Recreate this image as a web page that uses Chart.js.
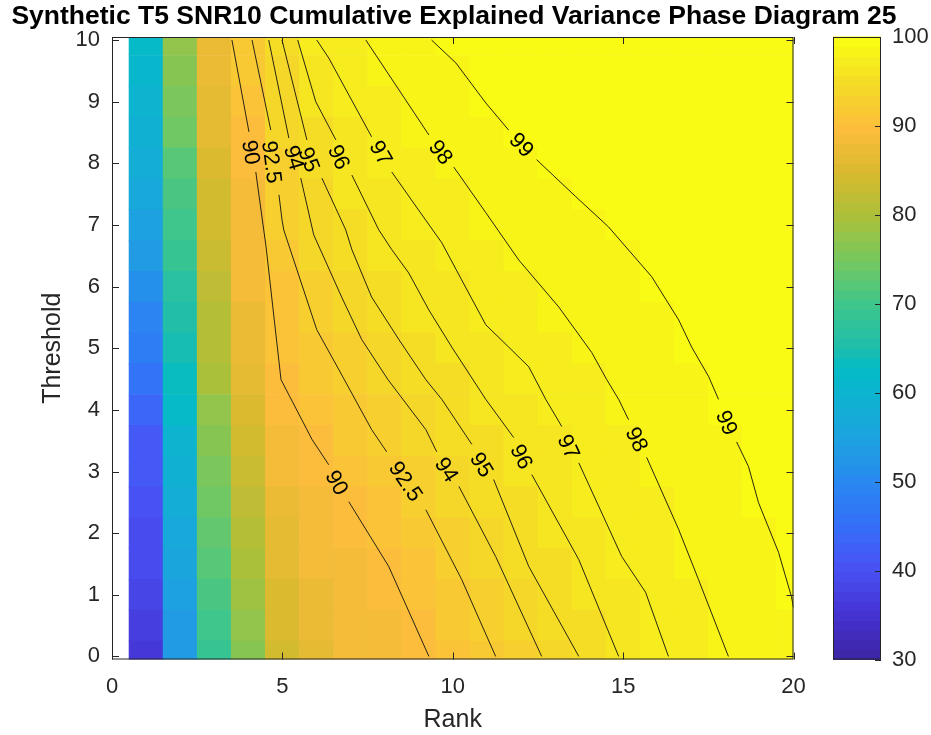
<!DOCTYPE html>
<html>
<head>
<meta charset="utf-8">
<script src="https://cdn.jsdelivr.net/npm/chart.js@4/dist/chart.umd.min.js"></script>
<style>
html,body{margin:0;padding:0;background:#fff;}
canvas{display:block;}
</style>
</head>
<body>
<canvas id="chart" width="931" height="735"></canvas>
<script>
// ---------------- DATA ----------------
const chartTitle = 'Synthetic T5 SNR10 Cumulative Explained Variance Phase Diagram 25';
const xAxisLabel = 'Rank';
const yAxisLabel = 'Threshold';

const ranks = [1,2,3,4,5,6,7,8,9,10,11,12,13,14,15,16,17,18,19,20];
const thresholds = [0,0.5,1,1.5,2,2.5,3,3.5,4,4.5,5,5.5,6,6.5,7,7.5,8,8.5,9,9.5,10];

const xTicks = [0,5,10,15,20];
const yTicks = [0,1,2,3,4,5,6,7,8,9,10];
const colorbarTicks = [30,40,50,60,70,80,90,100];
const colorLimits = [30,100];

// cumulative explained variance (%) per rank, one array per threshold row
const ev_t0_0  = [36.5,53.0,68.7,77.0,84.2,86.6,88.0,89.0,89.6,90.9,92.2,93.3,94.4,95.3,96.1,96.8,97.4,98.0,98.4,98.8];
const ev_t0_5  = [37.0,53.5,69.7,78.0,84.8,87.0,88.3,88.9,90.1,91.4,92.7,93.8,94.8,95.6,96.3,97.0,97.6,98.1,98.5,98.9];
const ev_t1_0  = [38.0,54.5,70.8,79.0,85.4,87.6,88.6,89.3,90.6,91.9,93.1,94.3,95.2,95.9,96.6,97.2,97.8,98.2,98.6,99.0];
const ev_t1_5  = [39.0,55.5,71.8,80.0,86.2,88.0,89.0,89.9,91.2,92.5,93.6,94.8,95.5,96.2,97.0,97.5,98.0,98.4,98.8,99.1];
const ev_t2_0  = [39.5,56.5,72.8,80.8,86.8,88.3,89.4,90.6,91.8,93.0,94.1,95.1,95.8,96.5,97.2,97.7,98.1,98.5,98.9,99.1];
const ev_t2_5  = [40.0,58.0,74.0,82.0,87.6,89.0,90.1,91.2,92.4,93.5,94.6,95.4,96.2,96.8,97.4,97.8,98.2,98.6,99.0,99.2];
const ev_t3_0  = [41.0,59.0,75.3,83.2,88.4,89.4,90.7,92.0,93.1,94.1,95.0,95.8,96.5,97.1,97.6,98.1,98.4,98.8,99.1,99.2];
const ev_t3_5  = [42.0,60.5,76.5,84.3,88.9,90.1,91.4,92.7,93.6,94.6,95.4,96.1,96.7,97.2,97.8,98.2,98.6,98.9,99.1,99.2];
const ev_t4_0  = [44.0,62.0,78.0,85.5,89.4,90.8,92.1,93.2,94.2,95.1,95.9,96.5,97.0,97.5,98.0,98.3,98.7,99.0,99.2,99.3];
const ev_t4_5  = [46.0,63.0,79.5,86.5,90.0,91.4,92.7,93.9,94.8,95.6,96.2,96.8,97.3,97.8,98.2,98.5,98.8,99.0,99.2,99.3];
const ev_t5_0  = [47.5,64.0,80.5,87.3,90.2,92.0,93.4,94.5,95.3,96.0,96.6,97.1,97.6,98.0,98.3,98.7,99.0,99.2,99.3,99.4];
const ev_t5_5  = [49.5,65.5,81.3,87.7,90.6,92.6,93.9,95.0,95.7,96.4,97.1,97.5,97.9,98.2,98.5,98.8,99.1,99.2,99.3,99.4];
const ev_t6_0  = [51.5,67.0,82.2,88.0,90.9,93.1,94.5,95.4,96.1,96.7,97.3,97.7,98.1,98.4,98.7,99.0,99.2,99.3,99.4,99.5];
const ev_t6_5  = [53.5,68.5,83.0,88.1,91.5,93.7,94.9,95.7,96.4,97.1,97.6,98.0,98.3,98.6,98.9,99.2,99.3,99.4,99.5,99.5];
const ev_t7_0  = [55.0,70.0,83.8,88.1,92.5,94.2,95.2,96.1,96.8,97.4,97.9,98.2,98.5,98.8,99.1,99.3,99.4,99.5,99.5,99.6];
const ev_t7_5  = [56.5,71.0,84.6,88.8,92.7,94.5,95.7,96.5,97.2,97.7,98.1,98.5,98.8,99.1,99.3,99.4,99.5,99.5,99.6,99.6];
const ev_t8_0  = [58.0,72.5,85.3,89.4,93.2,95.2,96.2,96.9,97.5,98.0,98.4,98.8,99.2,99.3,99.4,99.5,99.6,99.6,99.7,99.7];
const ev_t8_5  = [59.0,74.0,86.0,89.9,93.5,95.4,96.5,97.3,97.9,98.3,98.7,99.1,99.3,99.4,99.5,99.6,99.6,99.7,99.7,99.8];
const ev_t9_0  = [60.0,75.5,86.6,90.6,94.1,96.0,96.9,97.6,98.2,98.6,99.0,99.3,99.4,99.5,99.6,99.6,99.7,99.7,99.8,99.8];
const ev_t9_5  = [61.0,77.0,87.1,91.3,94.5,96.3,97.3,98.0,98.4,98.9,99.2,99.4,99.5,99.6,99.6,99.7,99.7,99.8,99.8,99.9];
const ev_t10_0 = [62.0,78.0,87.7,92.0,95.0,97.0,97.7,98.3,98.8,99.1,99.3,99.5,99.6,99.6,99.7,99.7,99.8,99.8,99.9,99.9];

const varianceRows = [ev_t0_0,ev_t0_5,ev_t1_0,ev_t1_5,ev_t2_0,ev_t2_5,ev_t3_0,ev_t3_5,ev_t4_0,ev_t4_5,
  ev_t5_0,ev_t5_5,ev_t6_0,ev_t6_5,ev_t7_0,ev_t7_5,ev_t8_0,ev_t8_5,ev_t9_0,ev_t9_5,ev_t10_0];

// contour lines [rank, threshold]; null = gap where the inline label sits
const contourLevels = [90, 92.5, 94, 95, 96, 97, 98, 99];
const c90  = [[3.52,10],[4.02,8.51],null,[4.22,7.86],[4.52,6.65],[4.96,4.49],[5.72,3.68],[5.87,3.52],[6.36,3.11],null,[6.95,2.51],[8.12,1.46],[9.30,0]];
const c925 = [[4.11,10],[4.66,8.54],null,[4.90,7.49],[4.99,7.08],[5.04,6.92],[6.01,5.30],[6.66,4.65],[7.62,3.68],[8.06,3.32],null,[9.21,2.38],[10.26,1.25],[11.26,0]];
const c94  = [[4.60,10],[5.19,8.41],null,[5.54,7.76],[5.92,6.84],[6.74,5.83],[7.33,5.14],[8.10,4.49],[9.21,3.68],[9.53,3.32],null,[10.18,2.76],[11.26,1.62],[12.61,0]];
const c95  = [[4.99,10],[5.72,8.38],null,[6.16,7.76],[6.86,6.92],[7.04,6.60],[7.62,5.83],[8.42,5.14],[9.21,4.49],[9.68,4.17],[10.56,3.44],null,[11.20,2.87],[12.23,1.46],[13.70,0]];
const c96  = [[5.45,10],[5.98,9.0],[6.57,8.38],null,[7.04,7.81],[7.83,6.92],[8.21,6.60],[8.71,6.22],[9.30,5.62],[9.97,5.02],[10.97,4.17],[11.79,3.55],null,[12.32,2.95],[13.70,1.57],[14.87,0]];
const c97  = [[6.01,10],[6.36,9.71],[7.62,8.43],null,[8.21,7.86],[9.00,7.24],[9.68,6.71],[10.26,6.11],[10.97,5.38],[11.64,5.02],[12.23,4.70],[12.73,4.17],[13.20,3.73],null,[13.70,3.14],[14.96,1.62],[15.66,1.04],[16.33,0]];
const c98  = [[7.45,10],[9.30,8.46],null,[10.03,7.94],[10.97,7.20],[11.94,6.43],[13.11,5.67],[14.08,4.93],[14.52,4.49],[14.87,4.17],[15.16,3.84],null,[15.69,3.23],[16.63,2.06],[17.21,1.25],[18.09,0]];
const c99  = [[9.38,10],[10.09,9.63],[10.97,8.98],[11.64,8.54],null,[12.46,8.06],[13.61,7.46],[14.57,6.97],[15.84,6.16],[16.63,5.46],[17.01,5.02],[17.51,4.54],[17.80,4.17],null,[18.33,3.48],[18.68,3.08],[18.97,2.50],[19.56,1.69],[19.94,0.97],[20.0,0.79]];
const contourPaths = [c90, c925, c94, c95, c96, c97, c98, c99];

// label centre positions [rank, threshold]
const lab90  = [[4.08,8.18],[6.60,2.82]];
const lab925 = [[4.69,8.02],[8.62,2.84]];
const lab94  = [[5.34,8.09],[9.82,3.03]];
const lab95  = [[5.78,8.06],[10.85,3.11]];
const lab96  = [[6.66,8.10],[12.02,3.24]];
const lab97  = [[7.89,8.17],[13.40,3.40]];
const lab98  = [[9.65,8.18],[15.40,3.52]];
const lab99  = [[12.02,8.30],[18.04,3.79]];
const contourLabelSpots = [lab90, lab925, lab94, lab95, lab96, lab97, lab98, lab99];

// ---------------- STYLE ----------------
const FONT = '"Liberation Sans", Arial, Helvetica, sans-serif';
const AXIS_COLOR = '#262626';
Chart.defaults.font.family = FONT;

// parula-like colormap stops (fraction -> rgb)
const CMAP_STOPS = [
  [0.000,[62,38,168]],[0.071,[70,52,212]],[0.143,[72,82,244]],[0.214,[52,112,248]],
  [0.286,[40,138,240]],[0.357,[28,164,222]],[0.429,[12,180,208]],[0.471,[5,188,196]],
  [0.500,[30,190,172]],[0.571,[62,198,140]],[0.643,[118,200,96]],[0.714,[170,192,58]],
  [0.786,[216,186,46]],[0.857,[252,188,60]],[0.929,[244,218,40]],[1.000,[249,251,20]]
];
const NLEVELS = 64;
function cmapAt(f){
  for(let i=1;i<CMAP_STOPS.length;i++){
    const [f1,c1]=CMAP_STOPS[i]; const [f0,c0]=CMAP_STOPS[i-1];
    if(f<=f1){
      const u=(f-f0)/(f1-f0);
      return 'rgb('+c0.map((c,k)=>Math.round(c+(c1[k]-c)*u)).join(',')+')';
    }
  }
  const c=CMAP_STOPS[CMAP_STOPS.length-1][1]; return 'rgb('+c.join(',')+')';
}
function levelIndex(v){
  let idx=Math.floor((v-colorLimits[0])/(colorLimits[1]-colorLimits[0])*NLEVELS);
  return Math.max(0,Math.min(NLEVELS-1,idx));
}
function colorFor(v){ return cmapAt(levelIndex(v)/(NLEVELS-1)); }

// ---------------- DATASETS ----------------
const cellHalf = (thresholds[1]-thresholds[0])/2;
const heatDatasets = thresholds.map((t,k)=>({
  type:'bar',
  data: ranks.map(r=>({x:r, y:[t-cellHalf, t+cellHalf]})),
  backgroundColor: varianceRows[k].map(colorFor),
  borderWidth:0,
  grouped:false,
  barPercentage:1,
  categoryPercentage:1,
  clip:0,
  order:2
}));

const contourDatasets = contourPaths.map((path,ci)=>({
  type:'line',
  label:String(contourLevels[ci]),
  data: path.map((p,i)=> p ? {x:p[0], y:p[1]} : {x:path[i-1][0], y:null}),
  borderColor:'#111',
  borderWidth:0.9,
  pointRadius:0,
  tension:0,
  spanGaps:false,
  fill:false,
  order:1
}));

// ---------------- PLUGIN ----------------
const decor = {
  id:'decor',
  afterDatasetsDraw(chart){
    const {ctx, chartArea:a, scales} = chart;
    const xs=scales.x, ys=scales.y, cb=scales.cb;
    ctx.save();
    // contour labels
    ctx.font = '22px '+FONT;
    ctx.fillStyle='#000';
    ctx.textAlign='center';
    ctx.textBaseline='middle';
    contourPaths.forEach((path,ci)=>{
      let g=0;
      path.forEach((p,i)=>{
        if(p!==null) return;
        const spot=contourLabelSpots[ci][g++];
        if(!spot) return;
        const p0=path[i-1], p1=path[i+1];
        const dx=xs.getPixelForValue(p1[0])-xs.getPixelForValue(p0[0]);
        const dy=ys.getPixelForValue(p1[1])-ys.getPixelForValue(p0[1]);
        let ang=Math.atan2(dy,dx);
        if(ang>Math.PI/2) ang-=Math.PI;
        if(ang<-Math.PI/2) ang+=Math.PI;
        ctx.save();
        ctx.translate(xs.getPixelForValue(spot[0]), ys.getPixelForValue(spot[1]));
        ctx.rotate(ang);
        ctx.fillText(String(contourLevels[ci]),0,1);
        ctx.restore();
      });
    });
    // axes box
    ctx.strokeStyle=AXIS_COLOR;
    ctx.lineWidth=1;
    ctx.strokeRect(a.left+0.5,a.top+0.5,a.right-a.left-1,a.bottom-a.top-1);
    const TL=7;
    ctx.beginPath();
    xs.ticks.forEach(t=>{
      const px=Math.round(xs.getPixelForValue(t.value))+0.5;
      ctx.moveTo(px,a.bottom); ctx.lineTo(px,a.bottom-TL);
      ctx.moveTo(px,a.top); ctx.lineTo(px,a.top+TL);
    });
    ys.ticks.forEach(t=>{
      const py=Math.round(ys.getPixelForValue(t.value))+0.5;
      ctx.moveTo(a.left,py); ctx.lineTo(a.left+TL,py);
      ctx.moveTo(a.right,py); ctx.lineTo(a.right-TL,py);
    });
    ctx.stroke();
    // colorbar
    const cbL=833, cbR=881;
    const top=cb.getPixelForValue(colorLimits[1]), bot=cb.getPixelForValue(colorLimits[0]);
    for(let i=0;i<NLEVELS;i++){
      const v0=colorLimits[0]+i*(colorLimits[1]-colorLimits[0])/NLEVELS;
      const v1=colorLimits[0]+(i+1)*(colorLimits[1]-colorLimits[0])/NLEVELS;
      const y0=cb.getPixelForValue(v0), y1=cb.getPixelForValue(v1);
      ctx.fillStyle=cmapAt(i/(NLEVELS-1));
      ctx.fillRect(cbL,y1-0.5,cbR-cbL,(y0-y1)+1);
    }
    ctx.strokeStyle=AXIS_COLOR;
    ctx.strokeRect(cbL+0.5,top+0.5,cbR-cbL-1,bot-top-1);
    ctx.beginPath();
    cb.ticks.forEach(t=>{
      const py=Math.round(cb.getPixelForValue(t.value))+0.5;
      ctx.moveTo(cbR,py); ctx.lineTo(cbR-6,py);
    });
    ctx.stroke();
    ctx.restore();
  }
};

function noVerticalPadding(s){ s.paddingTop=0; s.paddingBottom=0; }

// ---------------- CHART ----------------
const tickFont = {family:FONT, size:22};
new Chart(document.getElementById('chart'), {
  type:'bar',
  data:{datasets:[...heatDatasets, ...contourDatasets]},
  options:{
    responsive:false,
    animation:false,
    devicePixelRatio:1,
    layout:{padding:{left:-23, right:0, top:0, bottom:0}},
    plugins:{
      legend:{display:false},
      tooltip:{enabled:false},
      title:{display:true, text:chartTitle, color:'#000',
        font:{family:FONT, size:26.5, weight:'bold', lineHeight:1.2},
        padding:{top:1, bottom:4.2}}
    },
    scales:{
      x:{type:'linear', position:'bottom', min:0, max:20, offset:false,
        grid:{display:false, drawTicks:false}, border:{display:false},
        afterBuildTicks:s=>{s.ticks=xTicks.map(v=>({value:v}));},
        ticks:{padding:14, font:tickFont, color:AXIS_COLOR, maxRotation:0, autoSkip:false},
        title:{display:true, text:xAxisLabel, color:AXIS_COLOR, font:{family:FONT,size:25,lineHeight:1.2}, padding:{top:0,bottom:0}},
        afterFit:s=>{s.height=75.5; s.paddingLeft=0; s.paddingRight=0;}
      },
      y:{type:'linear', position:'left', min:-0.05, max:10.05,
        grid:{display:false, drawTicks:false}, border:{display:false},
        afterBuildTicks:s=>{s.ticks=yTicks.map(v=>({value:v}));},
        ticks:{padding:12, font:tickFont, color:AXIS_COLOR, autoSkip:false},
        title:{display:true, text:yAxisLabel, color:AXIS_COLOR, font:{family:FONT,size:25,lineHeight:1.2}, padding:{top:61,bottom:0}},
        afterFit:s=>{s.width=135; noVerticalPadding(s);}
      },
      cb:{type:'linear', position:'right', min:colorLimits[0], max:colorLimits[1],
        grid:{display:false, drawTicks:false}, border:{display:false},
        afterBuildTicks:s=>{s.ticks=colorbarTicks.map(v=>({value:v}));},
        ticks:{padding:98.5, font:tickFont, color:AXIS_COLOR, autoSkip:false},
        afterFit:s=>{s.width=137.5; noVerticalPadding(s);}
      }
    }
  },
  plugins:[decor]
});
</script>
</body>
</html>
